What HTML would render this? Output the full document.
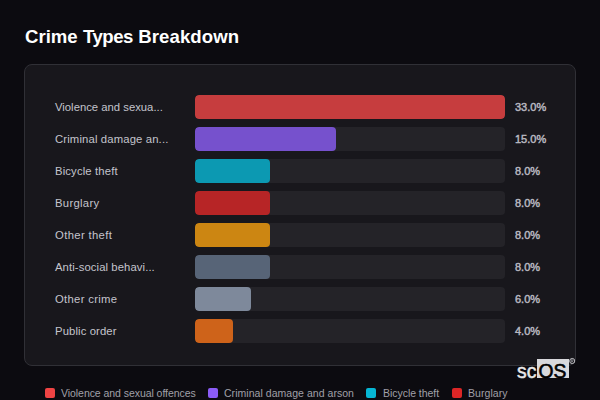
<!DOCTYPE html>
<html><head><meta charset="utf-8">
<style>
*{margin:0;padding:0;box-sizing:border-box}
html,body{width:600px;height:400px;overflow:hidden;background:#0c0b10;font-family:"Liberation Sans",sans-serif}
.t{position:absolute;white-space:nowrap;line-height:1}
.title{left:25px;top:28px;font-size:18.6px;font-weight:bold;color:#ffffff;letter-spacing:0px}
.card{position:absolute;left:24px;top:64px;width:552px;height:302px;background:#18171c;border:1px solid #303036;border-radius:8px}
.lab{left:55px;font-size:11.3px;color:#c4c4cc;-webkit-text-stroke:0px #c4c4cc}
.track{position:absolute;left:195px;width:310px;height:24px;background:#242328;border-radius:4px;overflow:hidden}
.bar{position:absolute;left:0;top:0;height:24px;border-radius:4px}
.pct{left:515px;font-size:11px;font-weight:normal;color:#b8b8c0;-webkit-text-stroke:0.45px #b8b8c0}
.lt{font-size:10.5px;color:#a0a0a8}
.sq{position:absolute;width:10px;height:10px;border-radius:2px;top:388px}
</style></head><body>
<div class="t title">Crime <span style="letter-spacing:-0.45px">Types</span> <span style="letter-spacing:0.1px">Breakdown</span></div>
<div class="card"></div>
<div class="t lab" style="top:102px;letter-spacing:0px">Violence and sexua...</div>
<div class="track" style="top:95px"><div class="bar" style="width:310px;background:rgb(198,61,62)"></div></div>
<div class="t pct" style="top:102px;letter-spacing:0px">33.0%</div>
<div class="t lab" style="top:134px;letter-spacing:0.14px">Criminal damage an...</div>
<div class="track" style="top:127px"><div class="bar" style="width:140.91px;background:rgb(118,81,205)"></div></div>
<div class="t pct" style="top:134px;letter-spacing:0px">15.0%</div>
<div class="t lab" style="top:166px;letter-spacing:0.14px">Bicycle theft</div>
<div class="track" style="top:159px"><div class="bar" style="width:75.15px;background:rgb(12,153,178)"></div></div>
<div class="t pct" style="top:166px;letter-spacing:0px">8.0%</div>
<div class="t lab" style="top:198px;letter-spacing:0.29px">Burglary</div>
<div class="track" style="top:191px"><div class="bar" style="width:75.15px;background:rgb(183,37,38)"></div></div>
<div class="t pct" style="top:198px;letter-spacing:0px">8.0%</div>
<div class="t lab" style="top:230px;letter-spacing:0.35px">Other theft</div>
<div class="track" style="top:223px"><div class="bar" style="width:75.15px;background:rgb(204,134,18)"></div></div>
<div class="t pct" style="top:230px;letter-spacing:0px">8.0%</div>
<div class="t lab" style="top:262px;letter-spacing:0.09px">Anti-social behavi...</div>
<div class="track" style="top:255px"><div class="bar" style="width:75.15px;background:rgb(87,100,119)"></div></div>
<div class="t pct" style="top:262px;letter-spacing:0px">8.0%</div>
<div class="t lab" style="top:294px;letter-spacing:0.3px">Other crime</div>
<div class="track" style="top:287px"><div class="bar" style="width:56.36px;background:rgb(126,137,155)"></div></div>
<div class="t pct" style="top:294px;letter-spacing:0px">6.0%</div>
<div class="t lab" style="top:326px;letter-spacing:0.11px">Public order</div>
<div class="track" style="top:319px"><div class="bar" style="width:37.58px;background:rgb(206,99,26)"></div></div>
<div class="t pct" style="top:326px;letter-spacing:0px">4.0%</div>
<div class="sq" style="left:45px;background:#ef4444"></div>
<div class="t lt" style="left:61px;top:388px;letter-spacing:-0.055px">Violence and sexual offences</div>
<div class="sq" style="left:208px;background:#8b5cf6"></div>
<div class="t lt" style="left:224px;top:388px;letter-spacing:0.04px">Criminal damage and arson</div>
<div class="sq" style="left:366px;background:#06b6d4"></div>
<div class="t lt" style="left:383px;top:388px;letter-spacing:-0.04px">Bicycle theft</div>
<div class="sq" style="left:452px;background:#dc2626"></div>
<div class="t lt" style="left:468px;top:388px;letter-spacing:0.07px">Burglary</div>
<div style="position:absolute;left:537px;top:359px;width:31.5px;height:19px;background:#d8d8dc"></div>
<div class="t" style="left:517px;top:361.9px;font-size:19.3px;color:#e8e8e8;-webkit-text-stroke:0.5px #e8e8e8">sc</div>
<div class="t" style="left:538.5px;top:361.9px;font-size:19.3px;color:#000;-webkit-text-stroke:0.6px #000">OS</div>
<svg style="position:absolute;left:568px;top:356px" width="9" height="10" viewBox="0 0 9 10"><circle cx="4.2" cy="5" r="2.55" fill="none" stroke="#cfcfd3" stroke-width="0.9"/><path d="M3.3 6.4V3.7h1.1a0.7 0.7 0 0 1 0 1.4H3.3M4.3 5.1l0.8 1.3" fill="none" stroke="#a8a8ae" stroke-width="0.6"/></svg>
</body></html>
